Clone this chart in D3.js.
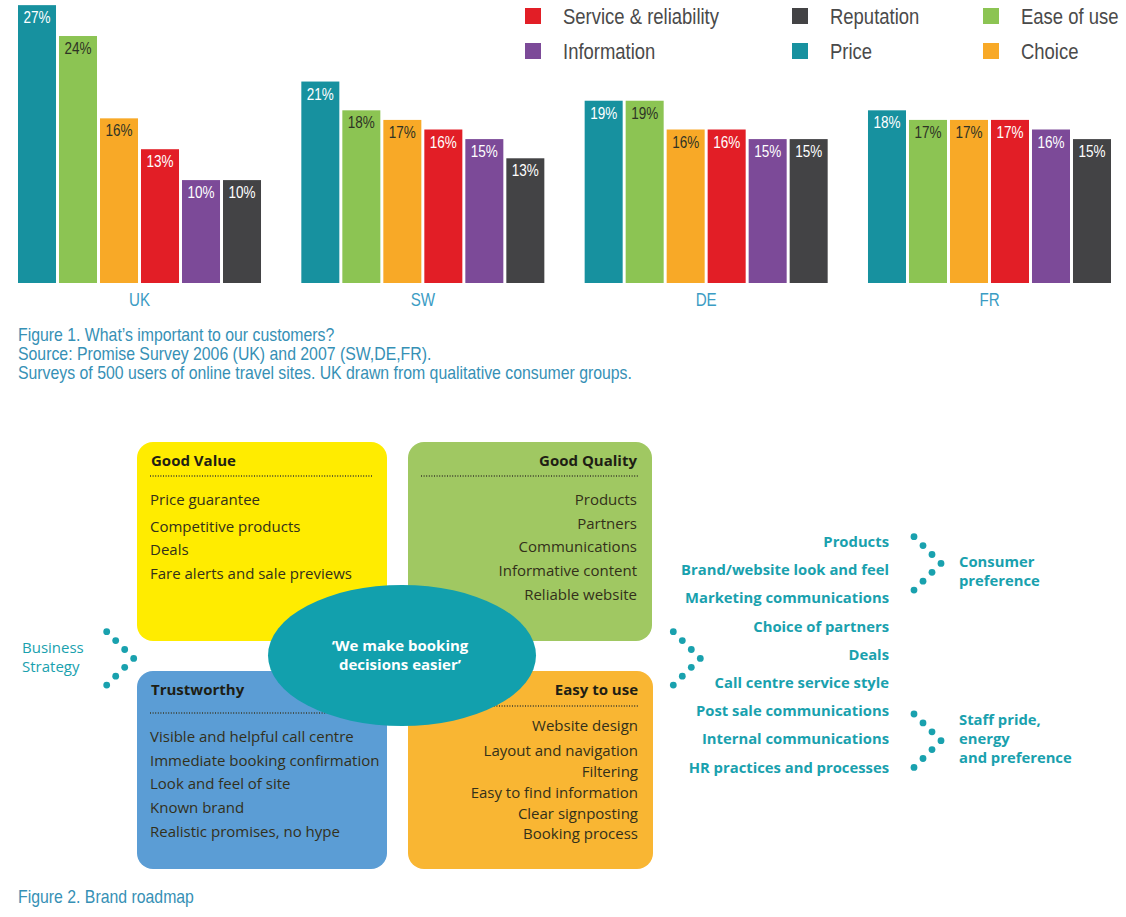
<!DOCTYPE html>
<html>
<head>
<meta charset="utf-8">
<script src="https://cdn.jsdelivr.net/npm/d3@7"></script>
<style>
  body { margin: 0; background: #fff; }
  .narrow { font-family: "Liberation Sans", Arial, sans-serif; }
  .humanist { font-family: "Open Sans", "Noto Sans", sans-serif; }
</style>
</head>
<body>
<div class="chart"></div>
<script>
// Figure 1 data
const countries = ["UK", "SW", "DE", "FR"];
const series = ["Price", "Ease of use", "Choice", "Service & reliability", "Information", "Reputation"];
const ukValues = [27, 24, 16, 13, 10, 10];
const swValues = [21, 18, 17, 16, 15, 13];
const deValues = [19, 19, 16, 16, 15, 15];
const frValues = [18, 17, 17, 17, 16, 15];
const legendOrder = ["Service & reliability", "Reputation", "Ease of use", "Information", "Price", "Choice"];

// Figure 2 text
const goodValue = ["Price guarantee", "Competitive products", "Deals", "Fare alerts and sale previews"];
const goodQuality = ["Products", "Partners", "Communications", "Informative content", "Reliable website"];
const trustworthy = ["Visible and helpful call centre", "Immediate booking confirmation", "Look and feel of site", "Known brand", "Realistic promises, no hype"];
const easyToUse = ["Website design", "Layout and navigation", "Filtering", "Easy to find information", "Clear signposting", "Booking process"];
const roadmapItems = ["Products", "Brand/website look and feel", "Marketing communications", "Choice of partners", "Deals",
  "Call centre service style", "Post sale communications", "Internal communications", "HR practices and processes"];

const valuesByCountry = { UK: ukValues, SW: swValues, DE: deValues, FR: frValues };

const colors = {
  "Price": "#17919f",
  "Ease of use": "#8cc453",
  "Choice": "#f8a927",
  "Service & reliability": "#e21e26",
  "Information": "#7c4a98",
  "Reputation": "#434345"
};
const darkLabel = { "Ease of use": true, "Choice": true };
const teal = "#19a1ae";
const squeeze = "scale(0.82,1)"; // fake a condensed face

const svgWidth = 1126;
const svgHeight = 917;

const svg = d3.select(".chart")
  .append("svg")
  .attr("width", svgWidth)
  .attr("height", svgHeight);

// condensed text placed at x,y
function narrowText(parent, x, y, str, size, fill, anchor, sq) {
  return parent.append("g")
    .attr("transform", `translate(${x},${y})`)
    .append("text")
    .attr("class", "narrow")
    .attr("transform", sq || squeeze)
    .attr("text-anchor", anchor || "start")
    .attr("font-size", size)
    .attr("fill", fill)
    .text(str);
}

// ---------- Figure 1: grouped bars ----------
const baseY = 283;

const x0 = d3.scaleBand()
  .domain(countries)
  .range([18, 1111])
  .paddingInner(0.1423);

const x1 = d3.scaleBand()
  .domain(series)
  .range([0, x0.bandwidth()])
  .paddingInner(0.073);

// the UK panel comes from a different survey and is drawn on its own scale
const yUK = d3.scaleLinear().domain([0, 27.5]).range([baseY, 0]);
const yRest = d3.scaleLinear().domain([0, 29.5]).range([baseY, 0]);
const yFor = c => (c === "UK" ? yUK : yRest);

const groups = svg.selectAll("g.country")
  .data(countries)
  .enter()
  .append("g")
  .attr("class", "country")
  .attr("transform", d => `translate(${x0(d)},0)`);

groups.each(function(country) {
  const g = d3.select(this);
  const y = yFor(country);
  const rows = series.map((s, i) => ({ s, v: valuesByCountry[country][i] }));

  g.selectAll("rect")
    .data(rows)
    .enter()
    .append("rect")
    .attr("x", d => x1(d.s))
    .attr("y", d => y(d.v))
    .attr("width", x1.bandwidth())
    .attr("height", d => baseY - y(d.v))
    .attr("fill", d => colors[d.s]);

  rows.forEach(d => {
    narrowText(g, x1(d.s) + x1.bandwidth() / 2, y(d.v) + 18, d.v + "%", 16.5,
      darkLabel[d.s] ? "#2e3325" : "#ffffff", "middle");
  });
});

// country axis labels
const xAxis = svg.append("g")
  .attr("transform", `translate(0,${baseY})`)
  .call(d3.axisBottom(x0).tickSize(0).tickPadding(10));
xAxis.select(".domain").remove();
xAxis.selectAll("text")
  .attr("class", "narrow")
  .attr("font-size", 18.5)
  .attr("fill", "#3b9cc4")
  .attr("dy", "0.71em")
  .attr("transform", squeeze);

// legend
const legendCols = [525, 792, 983];
const legendRows = [8, 43];
const legend = svg.selectAll("g.legend")
  .data(legendOrder)
  .enter()
  .append("g")
  .attr("class", "legend")
  .attr("transform", (d, i) => `translate(${legendCols[i % 3]},${legendRows[Math.floor(i / 3)]})`);
legend.append("rect")
  .attr("width", 16)
  .attr("height", 16)
  .attr("fill", d => colors[d]);
legend.each(function(d) {
  narrowText(d3.select(this), 38, 16, d, 22, "#4a4a4a", "start", "scale(0.84,1)");
});

// caption
const capSqueeze = "scale(0.88,1)";
const cap1 = ["Figure 1. What\u2019s important to our customers?",
  "Source: Promise Survey 2006 (UK) and 2007 (SW,DE,FR).",
  "Surveys of 500 users of online travel sites. UK drawn from qualitative consumer groups."];
cap1.forEach((line, i) => narrowText(svg, 18, 341 + i * 19, line, 18, "#3690b5", "start", capSqueeze));

// ---------- Figure 2: brand roadmap ----------
const boxes = [
  { title: "Good Value", items: goodValue, x: 137, y: 442, w: 250, h: 199, fill: "#ffec00", align: "start",
    titleY: 466, lineY: 476, itemY: [505, 532, 555, 579] },
  { title: "Good Quality", items: goodQuality, x: 408, y: 442, w: 244, h: 199, fill: "#a0c862", align: "end",
    titleY: 466, lineY: 476, itemY: [505, 529, 552, 576, 600] },
  { title: "Trustworthy", items: trustworthy, x: 137, y: 671, w: 250, h: 198, fill: "#5b9dd5", align: "start",
    titleY: 695, lineY: 713, itemY: [742, 766, 789, 813, 837] },
  { title: "Easy to use", items: easyToUse, x: 408, y: 671, w: 245, h: 198, fill: "#f9b633", align: "end",
    titleY: 695, lineY: 706, itemY: [731, 756, 777, 798, 819, 839] }
];

const boxG = svg.selectAll("g.box")
  .data(boxes)
  .enter()
  .append("g")
  .attr("class", "box humanist");

boxG.append("rect")
  .attr("x", d => d.x)
  .attr("y", d => d.y)
  .attr("width", d => d.w)
  .attr("height", d => d.h)
  .attr("rx", 16)
  .attr("fill", d => d.fill);

boxG.append("line")
  .attr("x1", d => d.x + 13)
  .attr("x2", d => d.x + d.w - 14)
  .attr("y1", d => d.lineY)
  .attr("y2", d => d.lineY)
  .attr("stroke", "#3a3a2a")
  .attr("stroke-width", 1.6)
  .attr("stroke-dasharray", "1,1.6");

boxG.append("text")
  .attr("x", d => (d.align === "start" ? d.x + 14 : d.x + d.w - 15))
  .attr("y", d => d.titleY)
  .attr("text-anchor", d => d.align)
  .attr("font-size", 15)
  .attr("font-weight", "bold")
  .attr("fill", "#1e1e14")
  .text(d => d.title);

boxG.each(function(b) {
  d3.select(this).selectAll("text.item")
    .data(b.items)
    .enter()
    .append("text")
    .attr("class", "item")
    .attr("x", b.align === "start" ? b.x + 13 : b.x + b.w - 15)
    .attr("y", (d, i) => b.itemY[i])
    .attr("text-anchor", b.align)
    .attr("font-size", 15)
    .attr("fill", "#33301a")
    .text(d => d);
});

// centre ellipse
svg.append("ellipse")
  .attr("cx", 402)
  .attr("cy", 655.5)
  .attr("rx", 134)
  .attr("ry", 70.5)
  .attr("fill", "#12a0ad");
svg.selectAll("text.claim")
  .data(["\u2018We make booking", "decisions easier\u2019"])
  .enter()
  .append("text")
  .attr("class", "claim humanist")
  .attr("x", 400)
  .attr("y", (d, i) => 651 + i * 19)
  .attr("text-anchor", "middle")
  .attr("font-size", 15)
  .attr("font-weight", "bold")
  .attr("fill", "#ffffff")
  .text(d => d);

// chevrons of dots
function chevron(x, y) {
  const pts = d3.range(7).map(i => [x + 9 * (3 - Math.abs(i - 3)), y + 8.9 * i]);
  svg.append("g").selectAll("circle")
    .data(pts)
    .enter()
    .append("circle")
    .attr("cx", d => d[0])
    .attr("cy", d => d[1])
    .attr("r", 3.4)
    .attr("fill", teal);
}
chevron(106.7, 631.7);
chevron(673.3, 631.7);
chevron(914, 536.7);
chevron(914, 714);

// Business Strategy
svg.selectAll("text.bs")
  .data(["Business", "Strategy"])
  .enter()
  .append("text")
  .attr("class", "bs humanist")
  .attr("x", 22)
  .attr("y", (d, i) => 653 + i * 19)
  .attr("font-size", 15)
  .attr("fill", teal)
  .text(d => d);

// roadmap list
svg.selectAll("text.road")
  .data(roadmapItems)
  .enter()
  .append("text")
  .attr("class", "road humanist")
  .attr("x", 889)
  .attr("y", (d, i) => 547 + i * 28.2)
  .attr("text-anchor", "end")
  .attr("font-size", 14.8)
  .attr("font-weight", "bold")
  .attr("fill", teal)
  .text(d => d);

const outcomes = [
  { lines: ["Consumer", "preference"], y: 567 },
  { lines: ["Staff pride,", "energy", "and preference"], y: 725 }
];
outcomes.forEach(o => {
  svg.selectAll(null)
    .data(o.lines)
    .enter()
    .append("text")
    .attr("class", "humanist")
    .attr("x", 959)
    .attr("y", (d, i) => o.y + i * 19)
    .attr("font-size", 14.8)
    .attr("font-weight", "bold")
    .attr("fill", teal)
    .text(d => d);
});

// caption 2
narrowText(svg, 18, 903, "Figure 2. Brand roadmap", 18, "#3690b5", "start", capSqueeze);
</script>
</body>
</html>
